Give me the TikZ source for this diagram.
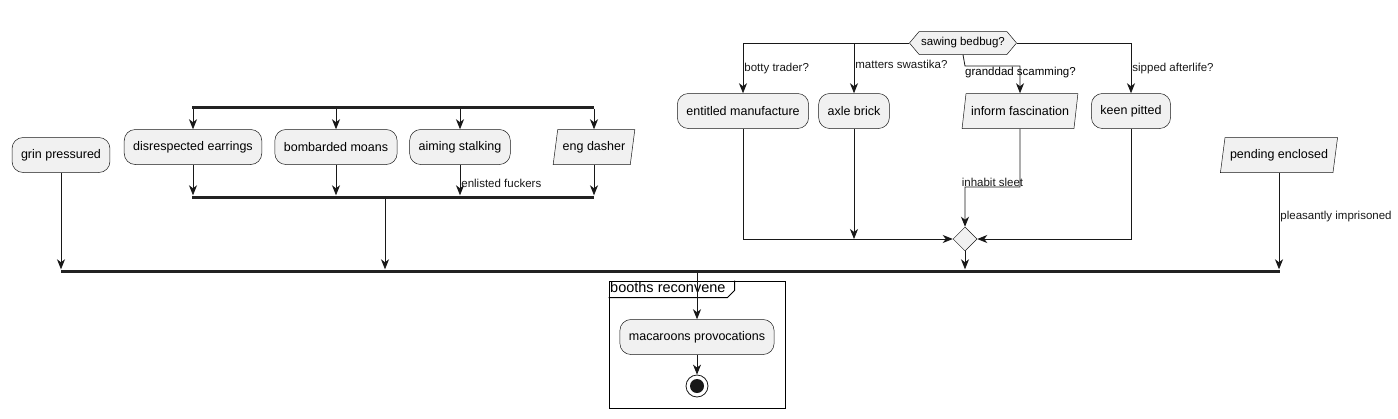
\documentclass[tikz,border=0pt]{standalone}
\usepackage{fontspec}
\setmainfont{Liberation Sans}
\usetikzlibrary{arrows.meta,positioning,shapes.geometric,shapes.symbols}
\definecolor{cFill}{HTML}{F1F1F1}
\definecolor{cLine}{HTML}{181818}
\definecolor{cBar}{HTML}{222222}

\begin{document}
\begin{tikzpicture}[
  x=1pt,y=-1pt,
  font=\fontsize{12.5}{14}\selectfont,
  >={Stealth[length=10pt,width=8pt,inset=3pt]},
  act/.style={draw=cLine,line width=0.5pt,fill=cFill,rounded corners=11pt,
              minimum height=35pt,inner xsep=9pt},
  io/.style={trapezium,trapezium left angle=76,trapezium right angle=104,
             trapezium stretches=true,draw=cLine,line width=0.5pt,fill=cFill,
             minimum height=35pt,inner xsep=5pt},
  ask/.style={signal,signal to=west and east,signal pointer angle=100,draw=cLine,
              line width=0.5pt,fill=cFill,minimum width=107pt,minimum height=23pt,
              inner xsep=2pt,inner ysep=5pt,font=\fontsize{11.5}{13}\selectfont},
  merge/.style={diamond,draw=cLine,line width=0.5pt,fill=cFill,minimum width=24pt,
                minimum height=24pt,inner sep=0pt},
  bar/.style={fill=cBar,inner sep=0pt,minimum height=3pt},
  flow/.style={->,line width=0.8pt,cLine},
  lbl/.style={font=\fontsize{11.5}{13}\selectfont,inner sep=1pt}
]
\useasboundingbox (0,0) rectangle (1398,418);

% left part
\node[act] (grin) at (61,155) {grin pressured};
\node[bar,minimum width=402pt] (fork1) at (393,107) {};
\node[act] (dis) at (193,147) {disrespected earrings};
\node[act] (bomb) at (336,147) {bombarded moans};
\node[act] (aim) at (460,147) {aiming stalking};
\node[io] (eng) at (594,147) {eng dasher};
\node[bar,minimum width=402pt] (join1) at (393,197) {};

\draw[flow] (dis.north |- fork1.south) -- (dis.north);
\draw[flow] (bomb.north |- fork1.south) -- (bomb.north);
\draw[flow] (aim.north |- fork1.south) -- (aim.north);
\draw[flow] (eng.north |- fork1.south) -- (eng.north);
\draw[flow] (dis.south) -- (dis.south |- join1.north);
\draw[flow] (bomb.south) -- (bomb.south |- join1.north);
\draw[flow] (aim.south) -- node[lbl,right,pos=0.6] {enlisted fuckers} (aim.south |- join1.north);
\draw[flow] (eng.south) -- (eng.south |- join1.north);

% right part
\node[ask] (saw) at (963,43) {sawing bedbug?};
\node[act] (ent) at (743,111) {entitled manufacture};
\node[act] (axle) at (854,111) {axle brick};
\node[io] (inf) at (1020,111) {inform fascination};
\node[act] (keen) at (1131,111) {keen pitted};
\node[merge] (dia) at (965,239) {};
\coordinate (gsc) at (965,66);
\coordinate (isc) at (1020,187);

\draw[flow] (saw.west) -| node[lbl,right,pos=0.75] {botty trader?} (ent.north);
\draw[flow] (saw.west) -| node[lbl,right,pos=0.71] {matters swastika?} (axle.north);
\draw[flow] (saw.south) -- (gsc) -| (inf.north);
\node[lbl,anchor=north west,inner sep=0pt] (gslbl) at ([yshift=-1pt]gsc) {granddad scamming?};
\draw[flow] (saw.east) -| node[lbl,right,pos=0.75] {sipped afterlife?} (keen.north);

\draw[flow] (ent.south) |- (dia.west);
\draw[flow] (axle.south) -- (axle.south |- dia.west);
\draw[flow] (inf.south) -- (isc) -| node[lbl,above,pos=0.25,inner sep=0pt] {inhabit sleet} (dia.north);
\draw[flow] (keen.south) |- (dia.east);

\node[io] (pend) at (1279,155) {pending enclosed};

% main join
\node[bar,minimum width=1219pt] (main) at (670.5,271) {};
\draw[flow] (grin.south) -- (grin.south |- main.north);
\draw[flow] ([xshift=-8pt]join1.south) -- ([xshift=-8pt]join1.south |- main.north);
\draw[flow] (dia.south) -- (dia.south |- main.north);
\draw[flow] (pend.south) -- node[lbl,right,pos=0.45] {pleasantly imprisoned} (pend.south |- main.north);

% group
\node[draw=black,line width=1pt,minimum width=176pt,minimum height=127pt,inner sep=0pt] (grp) at (697,344.5) {};
\draw[line width=1pt] ([yshift=-17pt]grp.north west) -- ++(119,0) -- ++(7,-7) -- ++(0,-10);
\node[anchor=north west,inner sep=1.5pt,font=\fontsize{14.5}{16}\selectfont] (grplbl) at (grp.north west) {booths reconvene};
\node[act] (mac) at (697,337) {macaroons provocations};
\node[circle,draw=cLine,line width=0.8pt,minimum size=22pt,inner sep=0pt] (fin) at (697,386) {};
\node[circle,fill=cLine,minimum size=14pt,inner sep=0pt] (finDot) at (fin) {};

\draw[flow] (main.south -| mac.north) -- (mac.north);
\draw[flow] (mac.south) -- (fin.north);

\end{tikzpicture}
\end{document}
